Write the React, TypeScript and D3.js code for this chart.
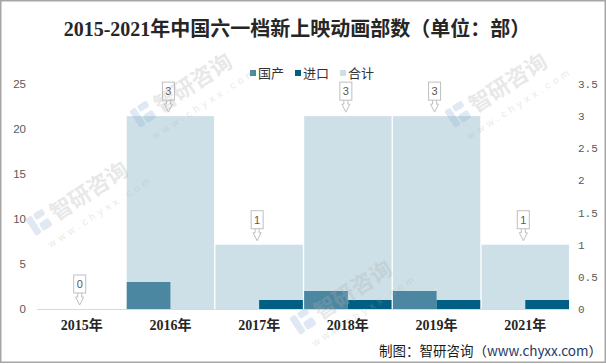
import React from "react";
import * as d3 from "d3";

const years = ["2015年", "2016年", "2017年", "2018年", "2019年", "2021年"];
const domestic = [0, 3, 0, 2, 2, 0];
const imported = [0, 0, 1, 1, 1, 1];
const total = [0, 3, 1, 3, 3, 1];
const leftTicks = [0, 5, 10, 15, 20, 25];
const rightTicks = [0, 0.5, 1, 1.5, 2, 2.5, 3, 3.5];
const legendItems = [
  { name: "国产", color: "#4b87a1" },
  { name: "进口", color: "#005f82" },
  { name: "合计", color: "#cde0e7" },
];

// watermark anchor points (layout only), kept inside the frame
const marks = [
  [140, 128],
  [455, 128],
  [36, 236],
  [300, 335],
];

const W = 606;
const H = 364;

const Watermark: React.FC<{ x: number; y: number }> = ({ x, y }) => (
  <g transform={`translate(${x},${y}) rotate(-33)`} opacity={0.28} pointerEvents="none">
    <g fill="#8fb0d6">
      <rect x={0} y={-20} width={7} height={20} rx={2} />
      <rect x={9} y={-20} width={11} height={7} rx={2} />
      <rect x={9} y={-9} width={11} height={9} rx={2} />
    </g>
    <text x={25} y={-1} fontFamily="Noto Sans CJK SC" fontWeight={700} fontSize={22} fill="#b0b0b0">
      智研咨询
    </text>
    <text x={6} y={18} fontFamily="Liberation Sans" fontSize={10} letterSpacing={4} fill="#b0b0b0">
      www.chyxx.com
    </text>
  </g>
);

const App: React.FC = () => {
  const x = d3.scaleBand<string>().domain(years).range([38, 569]).paddingInner(0.015).paddingOuter(0);
  const yL = d3.scaleLinear().domain([0, 25]).range([309, 84]);
  const yR = d3.scaleLinear().domain([0, 3.5]).range([309, 84]);
  const bw = x.bandwidth();

  return (
    <svg
      width={W}
      height={H}
      viewBox={`0 0 ${W} ${H}`}
      style={{ position: "absolute", left: 0, top: 0, background: "#fff" }}
    >
      <rect x={0} y={0} width={W} height={H} fill="#fff" />

      {/* title */}
      <text
        x={297}
        y={36}
        textAnchor="middle"
        fontFamily="Liberation Serif, Noto Sans CJK SC"
        fontWeight={700}
        fontSize={20}
        fill="#262626"
      >
        2015-2021年中国六一档新上映动画部数（单位：部）
      </text>

      {/* legend */}
      {legendItems.map((d, i) => (
        <g key={d.name} transform={`translate(${250 + i * 45},70)`}>
          <rect x={0} y={0} width={6} height={6} fill={d.color} />
          <text x={8} y={7.5} fontFamily="Noto Sans CJK SC" fontSize={13} fill="#333">
            {d.name}
          </text>
        </g>
      ))}

      {/* total bars (right axis) */}
      {years.map((yr, i) => (
        <rect
          key={"t" + yr}
          x={x(yr)}
          y={yR(total[i])}
          width={bw}
          height={yR(0) - yR(total[i])}
          fill="#cde0e7"
        />
      ))}

      {/* domestic bars (left axis) */}
      {years.map((yr, i) => (
        <rect
          key={"d" + yr}
          x={x(yr)}
          y={yL(domestic[i])}
          width={bw / 2}
          height={yL(0) - yL(domestic[i])}
          fill="#4b87a1"
        />
      ))}

      {/* imported bars (left axis) */}
      {years.map((yr, i) => (
        <rect
          key={"m" + yr}
          x={(x(yr) as number) + bw / 2}
          y={yL(imported[i])}
          width={bw / 2}
          height={yL(0) - yL(imported[i])}
          fill="#005f82"
        />
      ))}

      {/* baseline */}
      <line x1={37} x2={569} y1={309.5} y2={309.5} stroke="#d9d9d9" strokeWidth={1} />

      {/* left axis labels */}
      {leftTicks.map((t) => (
        <text
          key={"l" + t}
          x={26}
          y={yL(t) + 4}
          textAnchor="end"
          fontFamily="Liberation Sans"
          fontSize={11.5}
          fill="#595959"
        >
          {t}
        </text>
      ))}

      {/* right axis labels */}
      {rightTicks.map((t) => (
        <text
          key={"r" + t}
          x={578}
          y={yR(t) + 4}
          textAnchor="start"
          fontFamily="Liberation Mono"
          fontSize={11}
          fill="#595959"
        >
          {t}
        </text>
      ))}

      {/* x labels */}
      {years.map((yr) => (
        <text
          key={"x" + yr}
          x={(x(yr) as number) + bw / 2}
          y={330}
          textAnchor="middle"
          fontFamily="Liberation Serif, Noto Sans CJK SC"
          fontWeight={700}
          fontSize={14}
          fill="#262626"
        >
          {yr}
        </text>
      ))}

      {/* callouts for total */}
      {years.map((yr, i) => {
        const cx = (x(yr) as number) + bw / 2 - 2;
        const top = yR(total[i]);
        const bTop = top - 34;
        const bBot = top - 16;
        const sEnd = top - 12;
        const tip = top - 4;
        const path = `M${cx - 2},${bBot} L${cx - 2},${sEnd} L${cx - 4},${sEnd} L${cx},${tip} L${cx + 4},${sEnd} L${cx + 2},${sEnd} L${cx + 2},${bBot}`;
        return (
          <g key={"c" + yr}>
            <path d={path} fill="#fff" stroke="#bfbfbf" strokeWidth={1} />
            <rect x={cx - 6} y={bTop} width={12} height={18} fill="#fff" stroke="#bfbfbf" strokeWidth={1} />
            <text
              x={cx}
              y={bTop + 13}
              textAnchor="middle"
              fontFamily="Liberation Sans"
              fontSize={11}
              fill="#595959"
            >
              {total[i]}
            </text>
          </g>
        );
      })}

      {/* watermarks */}
      {marks.map(([mx, my], i) => (
        <Watermark key={"w" + i} x={mx} y={my} />
      ))}

      {/* source */}
      <text
        x={602}
        y={356}
        textAnchor="end"
        fontFamily="Noto Sans CJK SC"
        fontSize={13.5}
        fill="#1a1a1a"
      >
        制图：智研咨询（<tspan fill="#1f3864">www.chyxx.com</tspan>）
      </text>

      {/* border */}
      <rect x={0.75} y={0.75} width={W - 1.5} height={H - 2.5} fill="none" stroke="#a6a6a6" strokeWidth={1.5} />
    </svg>
  );
};

export default App;
